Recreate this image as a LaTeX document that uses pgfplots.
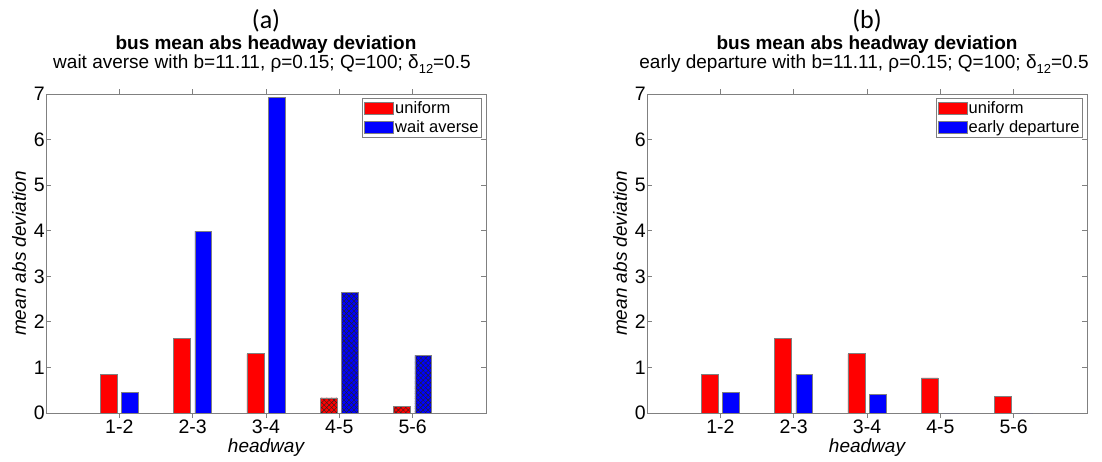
\documentclass[border=0pt]{standalone}
\usepackage{pgfplots}
\pgfplotsset{compat=1.18}
\usepackage{fontspec}
\setmainfont{Liberation Sans}
\newfontfamily\calibri{Carlito}
\usetikzlibrary{patterns.meta}
\definecolor{axgray}{RGB}{128,128,128}
\definecolor{mred}{RGB}{255,0,0}
\definecolor{mblue}{RGB}{0,0,255}
\pgfplotsset{
  myaxis/.style={
    scale only axis, width=440pt, height=319pt, anchor=south west,
    xmin=0, xmax=6, ymin=0, ymax=7,
    xtick={1,2,3,4,5}, xticklabels={1-2,2-3,3-4,4-5,5-6},
    ytick={0,1,2,3,4,5,6,7},
    tick align=inside, major tick length=5pt,
    axis line style={axgray, line width=0.8pt},
    tick style={axgray, line width=0.8pt},
    /pgf/number format/assume math mode=true,
    every tick label/.append style={font=\fontsize{19.5}{21}\selectfont, text=black},
    yticklabel style={inner xsep=1pt},
    xticklabel style={inner ysep=2pt},
    xlabel={\itshape headway}, ylabel={\itshape mean abs deviation},
    label style={font=\fontsize{19}{21}\selectfont},
    xlabel style={at={(rel axis cs:0.5,0)}, anchor=center, yshift=-35pt},
    ylabel style={at={(rel axis cs:0,0.5)}, anchor=center, yshift=27pt},
    ybar, bar width=0.23,
    legend style={at={(rel axis cs:1,1)}, xshift=-4pt, yshift=-4pt, anchor=north east,
      draw=axgray, line width=0.6pt, inner sep=1.5pt, row sep=3pt,
      font=\fontsize{16.5}{18}\selectfont,
      nodes={inner sep=1.5pt}},
    legend cell align=left,
  },
  leg/.style={legend image code/.code={\draw[##1] (0pt,-6pt) rectangle (29pt,6pt);}},
  redbar/.style={fill=mred, draw=axgray, line width=0.6pt, bar shift=-0.145, leg},
  bluebar/.style={fill=mblue, draw=axgray, line width=0.6pt, bar shift=0.145, leg},
  hatch/.style={postaction={pattern={Lines[angle=45,distance=3.5pt,line width=0.4pt]}, pattern color=black!85},
                postaction={pattern={Lines[angle=-45,distance=3.5pt,line width=0.4pt]}, pattern color=black!85}},
}
\begin{document}
\begin{tikzpicture}[x=1pt,y=1pt]
\useasboundingbox (0,0) rectangle (1102,-462);
% ---------------- (a)
\begin{axis}[myaxis, at={(46pt,-413pt)}]
\addplot[redbar] coordinates {(1,0.84) (2,1.64) (3,1.30)};
\addlegendentry{uniform}
\addplot[bluebar] coordinates {(1,0.45) (2,3.99) (3,6.93)};
\addlegendentry{wait averse}
\addplot[redbar, hatch, forget plot] coordinates {(4,0.33) (5,0.14)};
\addplot[bluebar, hatch, forget plot] coordinates {(4,2.64) (5,1.27)};
\end{axis}
% ---------------- (b)
\begin{axis}[myaxis, at={(647pt,-413pt)}]
\addplot[redbar] coordinates {(1,0.84) (2,1.64) (3,1.30) (4,0.77) (5,0.37)};
\addlegendentry{uniform}
\addplot[bluebar] coordinates {(1,0.45) (2,0.85) (3,0.41) (4,0) (5,0)};
\addlegendentry{early departure}
\end{axis}
% titles
\node[font=\calibri\fontsize{26}{26}\selectfont, anchor=base] at (266,-29) {(a)};
\node[font=\bfseries\fontsize{19}{20}\selectfont, anchor=base] at (266,-50) {bus mean abs headway deviation};
\node[font=\fontsize{19}{20}\selectfont, anchor=base] at (262,-69) {wait averse with b=11.11, ρ=0.15; Q=100; δ\raisebox{-0.45ex}{\fontsize{13}{13}\selectfont 12}=0.5};
\node[font=\calibri\fontsize{26}{26}\selectfont, anchor=base] at (867,-29) {(b)};
\node[font=\bfseries\fontsize{19}{20}\selectfont, anchor=base] at (867,-50) {bus mean abs headway deviation};
\node[font=\fontsize{19}{20}\selectfont, anchor=base] at (864,-69) {early departure with b=11.11, ρ=0.15; Q=100; δ\raisebox{-0.45ex}{\fontsize{13}{13}\selectfont 12}=0.5};
\end{tikzpicture}
\end{document}
